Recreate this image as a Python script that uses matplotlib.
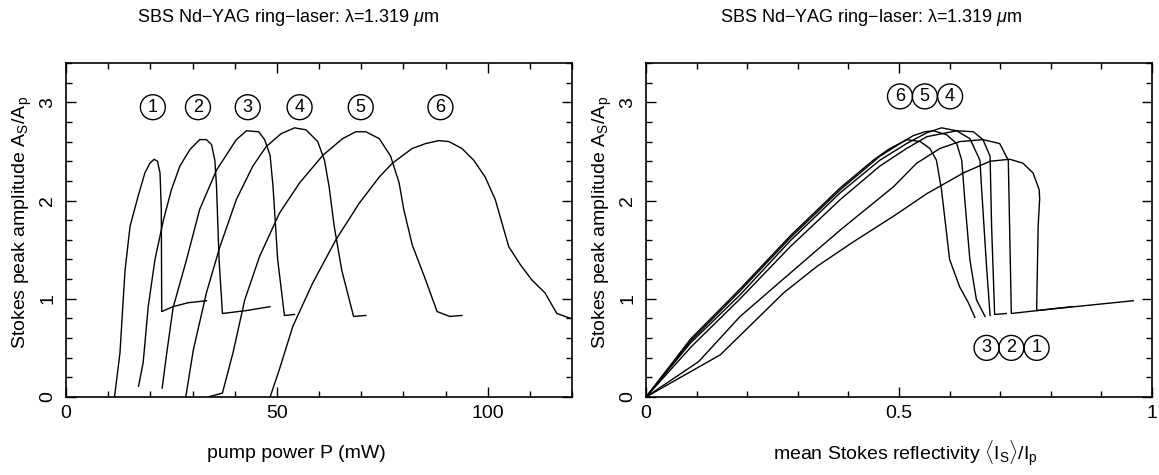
import matplotlib
matplotlib.use("Agg")
import matplotlib.pyplot as plt
from matplotlib.ticker import MultipleLocator

plt.rcParams["font.family"] = ["Liberation Sans", "DejaVu Sans"]
plt.rcParams["mathtext.fontset"] = "custom"
plt.rcParams["mathtext.rm"] = "Liberation Sans"
plt.rcParams["mathtext.it"] = "Liberation Sans:italic"

# left panel: pump power P (mW) vs Stokes peak amplitude
p1 = [11.5, 12.8, 14.0, 15.2, 17.2, 18.7, 19.9, 20.9, 21.7, 22.3, 22.6, 22.7, 25.4, 29.0, 33.3]
a1 = [0.0, 0.45, 1.29, 1.74, 2.06, 2.28, 2.38, 2.42, 2.40, 2.28, 1.91, 0.87, 0.92, 0.96, 0.98]
p2 = [17.2, 18.3, 19.5, 21.1, 23.1, 25.0, 27.0, 29.4, 31.7, 33.3, 34.5, 35.3, 35.7, 36.3, 37.1, 42.8, 48.4]
a2 = [0.11, 0.35, 0.92, 1.40, 1.80, 2.11, 2.35, 2.52, 2.62, 2.62, 2.57, 2.41, 2.14, 1.40, 0.85, 0.88, 0.92]
p3 = [22.8, 23.9, 25.4, 28.6, 31.7, 35.7, 40.4, 42.8, 45.7, 47.1, 48.4, 49.1, 50.2, 51.8, 54.2]
a3 = [0.09, 0.45, 0.91, 1.40, 1.91, 2.31, 2.62, 2.71, 2.70, 2.62, 2.46, 2.14, 1.40, 0.83, 0.84]
p4 = [28.4, 30.2, 33.3, 36.5, 40.4, 44.3, 47.5, 51.0, 54.2, 56.9, 59.7, 61.3, 62.4, 63.6, 65.4, 68.2, 71.1]
a4 = [0.0, 0.48, 1.06, 1.53, 2.01, 2.35, 2.55, 2.68, 2.74, 2.72, 2.60, 2.41, 2.14, 1.74, 1.29, 0.82, 0.83]
p5 = [33.7, 37.1, 39.6, 42.4, 45.9, 50.6, 55.4, 60.9, 65.6, 68.7, 71.1, 74.3, 77.0, 79.0, 80.1,
      82.1, 85.3, 88.0, 91.0, 93.9]
a5 = [0.0, 0.04, 0.45, 0.99, 1.43, 1.87, 2.18, 2.46, 2.63, 2.70, 2.70, 2.63, 2.45, 2.18, 1.91,
      1.55, 1.19, 0.87, 0.82, 0.83]
p6 = [48.4, 50.6, 53.8, 58.5, 64.0, 69.5, 74.3, 77.4, 82.1, 85.3, 88.4, 90.8, 93.9, 96.7, 99.4,
      101.8, 105.0, 107.7, 110.5, 113.6, 116.4, 119.7]
a6 = [0.0, 0.28, 0.72, 1.16, 1.60, 1.97, 2.24, 2.38, 2.53, 2.58, 2.61, 2.60, 2.53, 2.41, 2.24,
      2.01, 1.53, 1.35, 1.19, 1.06, 0.85, 0.80]

# right panel: mean Stokes reflectivity vs Stokes peak amplitude
r1 = [0.0, 0.147, 0.272, 0.338, 0.410, 0.489, 0.555, 0.627, 0.680, 0.719, 0.745, 0.765, 0.777,
      0.778, 0.775, 0.772, 0.963]
b1 = [0.0, 0.43, 1.06, 1.33, 1.58, 1.84, 2.07, 2.28, 2.40, 2.42, 2.38, 2.28, 2.11, 2.02, 1.74,
      0.88, 0.98]
r2 = [0.0, 0.104, 0.186, 0.278, 0.384, 0.489, 0.535, 0.581, 0.620, 0.666, 0.699, 0.716, 0.722, 0.842]
b2 = [0.0, 0.36, 0.82, 1.23, 1.70, 2.14, 2.38, 2.53, 2.60, 2.62, 2.58, 2.41, 0.85, 0.92]
r3 = [0.0, 0.091, 0.186, 0.285, 0.384, 0.462, 0.515, 0.555, 0.614, 0.647, 0.666, 0.680, 0.683, 0.689, 0.712]
b3 = [0.0, 0.52, 1.0, 1.53, 2.01, 2.35, 2.53, 2.65, 2.71, 2.70, 2.62, 2.45, 1.74, 0.84, 0.85]
r4 = [0.0, 0.088, 0.186, 0.285, 0.384, 0.462, 0.515, 0.555, 0.584, 0.614, 0.640, 0.660, 0.663, 0.673, 0.680]
b4 = [0.0, 0.55, 1.04, 1.59, 2.08, 2.41, 2.58, 2.69, 2.74, 2.71, 2.63, 2.41, 2.14, 1.33, 0.83]
r5 = [0.0, 0.088, 0.186, 0.285, 0.384, 0.462, 0.502, 0.528, 0.551, 0.568, 0.594, 0.614, 0.624,
      0.630, 0.640, 0.653, 0.670]
b5 = [0.0, 0.57, 1.08, 1.62, 2.11, 2.45, 2.58, 2.66, 2.70, 2.71, 2.67, 2.58, 2.41, 2.01, 1.40, 0.99, 0.82]
r6 = [0.0, 0.088, 0.186, 0.285, 0.384, 0.449, 0.479, 0.515, 0.542, 0.561, 0.574, 0.584, 0.600,
      0.620, 0.637, 0.650]
b6 = [0.0, 0.59, 1.10, 1.64, 2.13, 2.41, 2.52, 2.62, 2.60, 2.53, 2.41, 2.11, 1.40, 1.12, 0.96, 0.81]

left_tags = ["1", "2", "3", "4", "5", "6"]
left_tag_x = [20.6, 31.3, 43.1, 55.4, 69.9, 88.8]
top_tags = ["6", "5", "4"]
top_tag_x = [0.502, 0.551, 0.601]
low_tags = ["3", "2", "1"]
low_tag_x = [0.673, 0.722, 0.772]

title = r"SBS Nd$-$YAG ring$-$laser: λ=1.319 $\mu$m"

fig = plt.figure(figsize=(11.59, 4.75), dpi=100)
ax1 = fig.add_axes([66 / 1159, 1 - 397 / 475, 506 / 1159, 334 / 475])
ax2 = fig.add_axes([646 / 1159, 1 - 397 / 475, 506 / 1159, 334 / 475])

for p, a in [(p1, a1), (p2, a2), (p3, a3), (p4, a4), (p5, a5), (p6, a6)]:
    ax1.plot(p, a, color="black", linewidth=1.0)
for r, b in [(r1, b1), (r2, b2), (r3, b3), (r4, b4), (r5, b5), (r6, b6)]:
    ax2.plot(r, b, color="black", linewidth=1.0)

circ = dict(boxstyle="circle,pad=0.22", fc="none", ec="black", lw=1.0)
for t, x in zip(left_tags, left_tag_x):
    ax1.text(x, 2.95, t, ha="center", va="center", fontsize=13, bbox=circ)
for t, x in zip(top_tags, top_tag_x):
    ax2.text(x, 3.06, t, ha="center", va="center", fontsize=13, bbox=circ)
for t, x in zip(low_tags, low_tag_x):
    ax2.text(x, 0.50, t, ha="center", va="center", fontsize=13, bbox=circ)

ax1.set_xlim(0, 120)
ax1.xaxis.set_major_locator(MultipleLocator(50))
ax1.xaxis.set_minor_locator(MultipleLocator(10))
ax2.set_xlim(0, 1)
ax2.set_xticks([0, 0.5, 1])
ax2.set_xticklabels(["0", "0.5", "1"])
ax2.xaxis.set_minor_locator(MultipleLocator(0.1))

for ax in (ax1, ax2):
    ax.set_ylim(0, 3.4)
    ax.yaxis.set_major_locator(MultipleLocator(1))
    ax.yaxis.set_minor_locator(MultipleLocator(0.2))
    ax.tick_params(which="both", direction="in", top=True, right=True, width=1.0, labelsize=14)
    ax.tick_params(which="major", length=7)
    ax.tick_params(which="minor", length=4)
    ax.tick_params(axis="x", pad=6)
    ax.tick_params(axis="y", pad=7)
    for lbl in ax.get_yticklabels():
        lbl.set_rotation(90)
        lbl.set_va("center")
    for s in ax.spines.values():
        s.set_linewidth(1.2)

fig.text(137 / 1159, 1 - 18 / 475, title, ha="left", va="center", fontsize=13)
fig.text(720 / 1159, 1 - 18 / 475, title, ha="left", va="center", fontsize=13)

fig.text(296 / 1159, 1 - 453 / 475, "pump power P (mW)", ha="center", va="center", fontsize=14)
fig.text(905 / 1159, 1 - 453 / 475, r"mean Stokes reflectivity $\langle\mathrm{I_S}\rangle/\mathrm{I_p}$",
         ha="center", va="center", fontsize=14)

ylab = r"Stokes peak amplitude A$_\mathrm{S}$/A$_\mathrm{p}$"
fig.text(22 / 1159, 1 - 222 / 475, ylab, ha="center", va="center", rotation=90, fontsize=14)
fig.text(602 / 1159, 1 - 222 / 475, ylab, ha="center", va="center", rotation=90, fontsize=14)

fig.savefig("out.png", dpi=100)
